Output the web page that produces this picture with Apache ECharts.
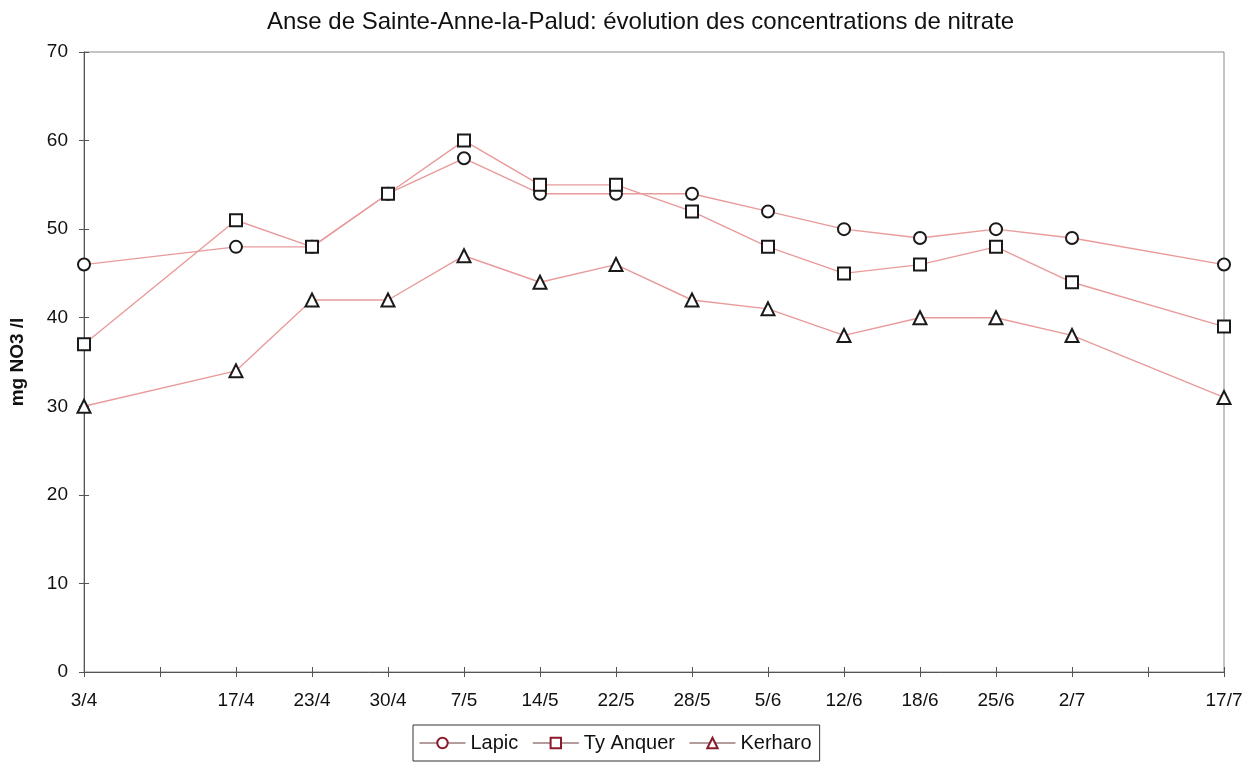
<!DOCTYPE html>
<html>
<head>
<meta charset="utf-8">
<script src="https://cdn.jsdelivr.net/npm/echarts@6/dist/echarts.min.js"></script>
<style>
  html, body { margin: 0; padding: 0; background: #fff; }
  #chart { width: 1256px; height: 765px; }
</style>
</head>
<body>
<div id="chart"></div>
<script>
// Sampling dates (blank slots keep the irregular spacing of the time axis)
const dates = ['3/4', '', '17/4', '23/4', '30/4', '7/5', '14/5', '22/5', '28/5', '5/6', '12/6', '18/6', '25/6', '2/7', ' ', '17/7'];

// Nitrate concentrations, mg NO3 / l
const lapic     = [46, null, 48, 48, 54, 58, 54, 54, 54, 52, 50, 49, 50, 49, null, 46];
const tyAnquer  = [37, null, 51, 48, 54, 60, 55, 55, 52, 48, 45, 46, 48, 44, null, 39];
const kerharo   = [30, null, 34, 42, 42, 47, 44, 46, 42, 41, 38, 40, 40, 38, null, 31];

const yTicks = { min: 0, max: 70, interval: 10 };

const lineColor = '#e99a9a';
const axisColor = '#555';
const font = 'Liberation Sans, Arial, sans-serif';

function makeSeries(name, data, symbol, size) {
  return {
    name: name,
    type: 'line',
    data: data,
    connectNulls: true,
    symbol: symbol,
    symbolSize: size,
    showAllSymbol: true,
    lineStyle: { color: lineColor, width: 1.4 },
    itemStyle: { color: '#fff', borderColor: '#1a1a1a', borderWidth: 2 },
    emphasis: { disabled: true },
    z: 3
  };
}

const chart = echarts.init(document.getElementById('chart'), null, { renderer: 'canvas' });
chart.setOption({
  animation: false,
  backgroundColor: '#fff',
  title: {
    text: 'Anse de Sainte-Anne-la-Palud: évolution des concentrations de nitrate',
    left: 262,
    top: 5,
    textStyle: { fontFamily: font, fontSize: 24, fontWeight: 'normal', color: '#111' }
  },
  grid: {
    left: 84, right: 32, top: 52, bottom: 93,
    outerBoundsMode: 'none',
    containLabel: false,
    show: true, borderColor: '#8a8a8a', borderWidth: 1, backgroundColor: 'transparent'
  },
  legend: {
    data: ['Lapic', 'Ty Anquer', 'Kerharo'],
    left: 413,
    top: 725,
    itemWidth: 46,
    itemHeight: 13,
    itemGap: 14,
    padding: [8, 8, 8, 6],
    borderColor: '#333',
    borderWidth: 1,
    textStyle: { fontFamily: font, fontSize: 20, color: '#111' },
    lineStyle: { color: '#6a3a3a', width: 1 },
    itemStyle: { color: '#fff', borderColor: '#8b1a2a', borderWidth: 2 }
  },
  xAxis: [{
    type: 'category',
    data: dates,
    boundaryGap: false,
    axisLine: { lineStyle: { color: axisColor, width: 1 } },
    axisTick: { show: true, alignWithLabel: true, length: 5, lineStyle: { color: axisColor } },
    axisLabel: { interval: 0, fontFamily: font, fontSize: 19, color: '#111', margin: 19 },
    splitLine: { show: false }
  }, {
    // inner half of the crossing tick marks
    type: 'category',
    data: dates,
    boundaryGap: false,
    position: 'bottom',
    axisLine: { show: false },
    axisTick: { show: true, inside: true, length: 5, lineStyle: { color: axisColor } },
    axisLabel: { show: false },
    splitLine: { show: false }
  }],
  yAxis: [{
    type: 'value',
    min: yTicks.min,
    max: yTicks.max,
    interval: yTicks.interval,
    name: 'mg NO3 /l',
    nameLocation: 'middle',
    nameGap: 57,
    nameRotate: 90,
    nameTextStyle: { fontFamily: font, fontSize: 19, fontWeight: 'bold', color: '#111' },
    axisLine: { show: true, lineStyle: { color: axisColor, width: 1 } },
    axisTick: { show: true, length: 5, lineStyle: { color: axisColor } },
    axisLabel: { fontFamily: font, fontSize: 19, color: '#111', margin: 16 },
    splitLine: { show: false }
  }, {
    // inner half of the crossing tick marks
    type: 'value',
    min: yTicks.min,
    max: yTicks.max,
    interval: yTicks.interval,
    position: 'left',
    axisLine: { show: false },
    axisTick: { show: true, inside: true, length: 5, lineStyle: { color: axisColor } },
    axisLabel: { show: false },
    splitLine: { show: false }
  }],
  series: [
    makeSeries('Lapic', lapic, 'circle', 12),
    makeSeries('Ty Anquer', tyAnquer, 'rect', 12),
    makeSeries('Kerharo', kerharo, 'triangle', 13)
  ]
});
</script>
</body>
</html>
